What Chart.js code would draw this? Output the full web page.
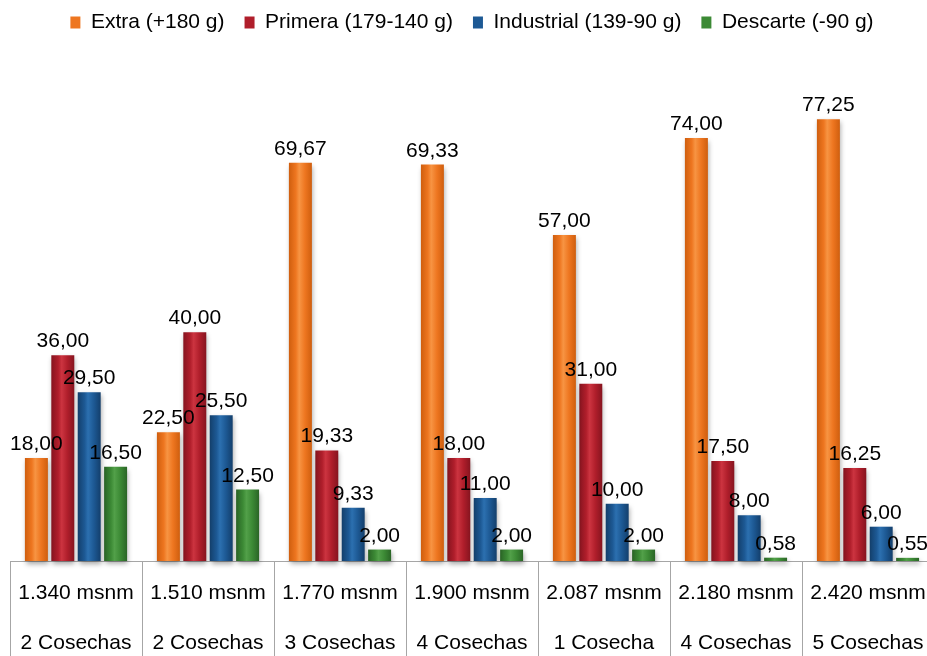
<!DOCTYPE html>
<html>
<head>
<meta charset="utf-8">
<script src="https://cdn.jsdelivr.net/npm/chart.js@4/dist/chart.umd.min.js"></script>
<style>
  html, body { margin: 0; padding: 0; background: #ffffff; overflow: hidden; }
  #wrap { position: absolute; left: 0; top: 0; width: 940px; height: 667px; }
</style>
</head>
<body>
<div id="wrap"><canvas id="chart" width="940" height="667"></canvas></div>
<script>
// Altitude of each plot and number of harvests evaluated
const altitudes = ['1.340 msnm', '1.510 msnm', '1.770 msnm', '1.900 msnm', '2.087 msnm', '2.180 msnm', '2.420 msnm'];
const harvests  = ['2 Cosechas', '2 Cosechas', '3 Cosechas', '4 Cosechas', '1 Cosecha', '4 Cosechas', '5 Cosechas'];

// Share (%) of fruit in each weight class
const seriesNames = ['Extra (+180 g)', 'Primera (179-140 g)', 'Industrial (139-90 g)', 'Descarte (-90 g)'];
const extra      = [18.00, 22.50, 69.67, 69.33, 57.00, 74.00, 77.25];
const primera    = [36.00, 40.00, 19.33, 18.00, 31.00, 17.50, 16.25];
const industrial = [29.50, 25.50,  9.33, 11.00, 10.00,  8.00,  6.00];
const descarte   = [16.50, 12.50,  2.00,  2.00,  2.00,  0.58,  0.55];

// base, dark edge, light highlight
const palette = [
  ['#EE7620', '#CF5E0E', '#F79443'],
  ['#B01E2B', '#86141F', '#CC3440'],
  ['#1D5994', '#133F6C', '#2C70B0'],
  ['#3C8A35', '#2A6526', '#52A049']
];

const FONT = '"Liberation Sans", Arial, sans-serif';

const fmt = v => v.toFixed(2).replace('.', ',');

// Cylinder-like shading across each bar plus a soft drop shadow
const barShading = {
  id: 'barShading',
  beforeDatasetsDraw(chart) {
    const ctx = chart.ctx;
    chart.data.datasets.forEach((ds, di) => {
      const meta = chart.getDatasetMeta(di);
      const [base, dark, light] = palette[di];
      meta.data.forEach(el => {
        const x0 = el.x - el.width / 2, x1 = el.x + el.width / 2;
        const g = ctx.createLinearGradient(x0, 0, x1, 0);
        g.addColorStop(0, dark);
        g.addColorStop(0.3, base);
        g.addColorStop(0.45, light);
        g.addColorStop(0.7, base);
        g.addColorStop(1, dark);
        el.options.backgroundColor = g;
      });
    });
  },
  beforeDatasetDraw(chart) {
    const ctx = chart.ctx;
    ctx.save();
    ctx.shadowColor = 'rgba(0,0,0,0.35)';
    ctx.shadowBlur = 5;
    ctx.shadowOffsetX = 1;
    ctx.shadowOffsetY = 3;
  },
  afterDatasetDraw(chart) {
    chart.ctx.restore();
  }
};

// Value labels above every bar
const valueLabels = {
  id: 'valueLabels',
  afterDatasetsDraw(chart) {
    const ctx = chart.ctx;
    ctx.save();
    ctx.font = '21px ' + FONT;
    ctx.fillStyle = '#000000';
    ctx.textAlign = 'center';
    ctx.textBaseline = 'alphabetic';
    chart.data.datasets.forEach((ds, di) => {
      chart.getDatasetMeta(di).data.forEach((el, i) => {
        ctx.fillText(fmt(ds.data[i]), el.x, el.y - 8);
      });
    });
    ctx.restore();
  }
};

const values = [extra, primera, industrial, descarte];

new Chart(document.getElementById('chart'), {
  type: 'bar',
  data: {
    labels: altitudes.map((a, i) => [a, harvests[i]]),
    datasets: values.map((data, di) => ({
      label: seriesNames[di],
      data: data,
      backgroundColor: () => palette[di][0],
      borderWidth: 0,
      categoryPercentage: 0.8,
      barPercentage: 0.87,
      clip: false
    }))
  },
  options: {
    responsive: false,
    animation: false,
    devicePixelRatio: 1,
    layout: { padding: { top: -8, left: 10, right: 6, bottom: 0 } },
    plugins: {
      legend: {
        position: 'top',
        align: 'center',
        labels: {
          font: { family: FONT, size: 21 },
          color: '#000000',
          boxWidth: 10,
          boxHeight: 12,
          padding: 20
        }
      },
      tooltip: { enabled: false }
    },
    scales: {
      x: {
        offset: true,
        grid: {
          offset: true,
          drawOnChartArea: false,
          drawTicks: true,
          tickLength: 110,
          color: '#A6A6A6',
          lineWidth: 1
        },
        border: { display: true, color: '#A6A6A6', width: 1 },
        ticks: {
          font: { family: FONT, size: 21, lineHeight: 2.4 },
          color: '#000000',
          padding: -103,
          maxRotation: 0,
          autoSkip: false
        },
        // the two-row label band below the bars
        afterFit(scale) { scale.height = 106; }
      },
      y: {
        display: false,
        min: 0,
        max: 90.6
      }
    }
  },
  plugins: [barShading, valueLabels]
});
</script>
</body>
</html>
